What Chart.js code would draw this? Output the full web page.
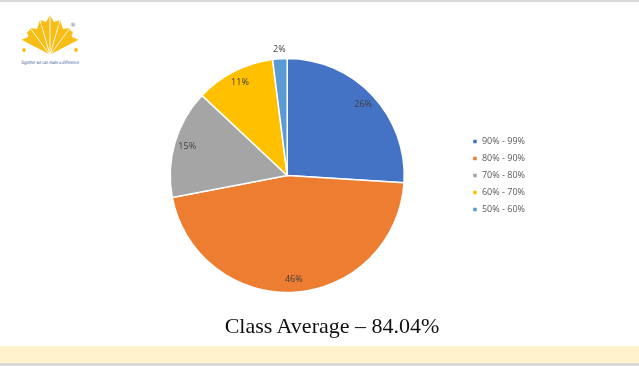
<!DOCTYPE html>
<html>
<head>
<meta charset="utf-8">
<script src="https://cdn.jsdelivr.net/npm/chart.js@4"></script>
<style>
  html, body { margin: 0; padding: 0; background: #fff; }
  body { width: 639px; height: 366px; position: relative; overflow: hidden; }
  .faixa-topo { position: absolute; left: 0; top: 0; width: 639px; height: 2px; background: #d9d9d9; }
  .logo { position: absolute; left: 0; top: 0; }
  .grafico { position: absolute; left: 0; top: 0; width: 639px; height: 345px; }
  .titulo { position: absolute; left: 0; top: 313px; width: 664px; line-height: 26px; text-align: center;
            font-family: 'Liberation Serif', serif; font-size: 22px; color: #111; }
  .faixa { position: absolute; left: 0; top: 346px; width: 639px; height: 17px; background: #fff2cc; }
  .rodape { position: absolute; left: 0; top: 363px; width: 639px; height: 3px; background: #d9d9d9; }
</style>
</head>
<body>
<div class="faixa-topo"></div>

<!-- logo -->
<svg class="logo" width="100" height="75">
  <polygon fill="#F8BE16" points="50,55 21,40 28,37 30,28 37,29 40,20 46,22 50,15 54,22 60,20 63,29 70,28 72,37 79,40"/>
  <g stroke="#fff" stroke-width="0.9">
    <line x1="50" y1="55" x2="21" y2="40"/>
    <line x1="50" y1="55" x2="30" y2="28"/>
    <line x1="50" y1="55" x2="40" y2="20"/>
    <line x1="50" y1="55" x2="50" y2="15"/>
    <line x1="50" y1="55" x2="60" y2="20"/>
    <line x1="50" y1="55" x2="70" y2="28"/>
    <line x1="50" y1="55" x2="79" y2="40"/>
  </g>
  <g fill="#F8BE16">
    <circle cx="43" cy="24" r="1.9"/><circle cx="57" cy="24" r="1.9"/>
    <circle cx="29" cy="33" r="1.9"/><circle cx="71" cy="33" r="1.9"/>
    <circle cx="24" cy="50" r="1.9"/><circle cx="76" cy="50" r="1.9"/>
  </g>
  <text x="73" y="27" font-size="6" fill="#777" font-family="DejaVu Sans" text-anchor="middle">®</text>
  <text x="21" y="64" font-size="4.6" fill="#2F5597" font-style="italic" font-family="DejaVu Sans" textLength="58" lengthAdjust="spacingAndGlyphs">Together we can make a difference</text>
</svg>

<div class="grafico"><canvas id="graficoNotas"></canvas></div>
<div class="titulo">Class Average – 84.04%</div>
<div class="faixa"></div>
<div class="rodape"></div>

<script>
const faixas = ['90% - 99%', '80% - 90%', '70% - 80%', '60% - 70%', '50% - 60%'];
const percentuais = [26, 46, 15, 11, 2];
const cores = ['#4472C4', '#ED7D31', '#A5A5A5', '#FFC000', '#5B9BD5'];

// rótulos de porcentagem dentro das fatias (ou fora, se a fatia for pequena)
const rotulosPlugin = {
  id: 'rotulos',
  afterDatasetsDraw(chart) {
    const ctx = chart.ctx;
    const meta = chart.getDatasetMeta(0);
    ctx.save();
    ctx.font = '9px "Open Sans"';
    ctx.fillStyle = '#404040';
    ctx.textAlign = 'center';
    ctx.textBaseline = 'middle';
    meta.data.forEach((arc, i) => {
      const { x, y, startAngle, endAngle, outerRadius } = arc.getProps(['x', 'y', 'startAngle', 'endAngle', 'outerRadius'], true);
      const meio = (startAngle + endAngle) / 2;
      const r = percentuais[i] < 5 ? outerRadius + 9 : outerRadius * 0.89;
      ctx.fillText(percentuais[i] + '%', x + Math.cos(meio) * r, y + Math.sin(meio) * r);
    });
    ctx.restore();
  }
};

new Chart(document.getElementById('graficoNotas'), {
  type: 'pie',
  data: {
    labels: faixas,
    datasets: [{
      data: percentuais,
      backgroundColor: cores,
      borderColor: '#fff',
      borderWidth: 1.5,
      radius: 117
    }]
  },
  options: {
    responsive: true,
    maintainAspectRatio: false,
    animation: false,
    layout: { padding: { top: 58, bottom: 52, left: 110, right: 104 } },
    plugins: {
      tooltip: { enabled: false },
      legend: {
        position: 'right',
        align: 'center',
        labels: {
          boxWidth: 5,
          boxHeight: 5,
          padding: 8,
          color: '#595959',
          font: { family: 'Open Sans', size: 9 }
        }
      }
    }
  },
  plugins: [rotulosPlugin]
});
</script>
</body>
</html>
